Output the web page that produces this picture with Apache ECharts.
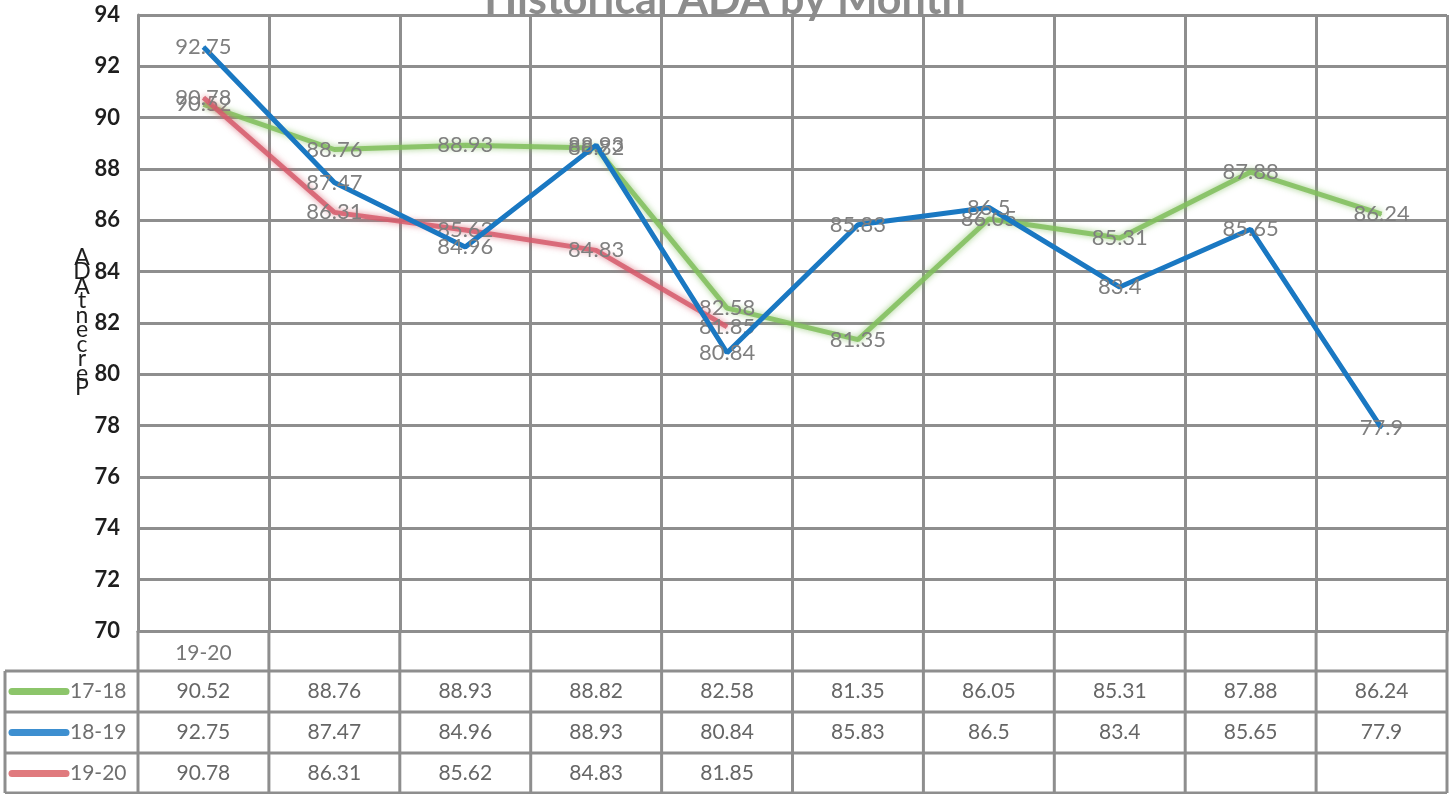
<!DOCTYPE html>
<html>
<head>
<meta charset="utf-8">
<title>Historical ADA by Month</title>
<script src="https://cdn.jsdelivr.net/npm/echarts@6/dist/echarts.min.js"></script>
<style>
  html, body { margin: 0; padding: 0; background: #ffffff; }
  #chart { width: 1450px; height: 794px; }
</style>
</head>
<body>
<div id="chart"></div>
<script>
// Category axis labels (one per month column)
const categories = ['19-20', '', '', '', '', '', '', '', '', ''];
// Y axis range
const yTicks = { min: 70, max: 94, step: 2 };
// Season names
const seasons = ['17-18', '18-19', '19-20'];
// ADA percentage per month for each season
const ada1718 = [90.52, 88.76, 88.93, 88.82, 82.58, 81.35, 86.05, 85.31, 87.88, 86.24];
const ada1819 = [92.75, 87.47, 84.96, 88.93, 80.84, 85.83, 86.5, 83.4, 85.65, 77.9];
const ada1920 = [90.78, 86.31, 85.62, 84.83, 81.85];

const seasonData = [ada1718, ada1819, ada1920];
const seasonColors = ['rgba(128,190,92,0.85)', '#1a78c2', 'rgba(214,92,108,0.85)'];
const keyColors = ['#8cc56a', '#3d8fd0', '#e07a7e'];

const FONT = 'Lato, "Liberation Sans", sans-serif';
const GRID_COLOR = '#8e8e8e';
const GRID_W = 3;

const chart = echarts.init(document.getElementById('chart'), null, { renderer: 'canvas' });

const gridBox = { left: 138, right: 3, top: 15, bottom: 163 };

function lineSeries(i) {
  const soft = i !== 1;
  return {
    name: seasons[i],
    type: 'line',
    data: seasonData[i],
    z: i === 1 ? 4 : (i === 2 ? 3 : 2),
    symbol: 'circle',
    symbolSize: 1,
    showSymbol: true,
    itemStyle: { color: seasonColors[i] },
    lineStyle: {
      color: seasonColors[i],
      width: 5,
      shadowBlur: soft ? 6 : 0,
      shadowColor: soft ? seasonColors[i] : 'transparent'
    },
    label: {
      show: true,
      position: 'inside',
      color: '#7f7f7f',
      fontFamily: FONT,
      fontSize: 22,
      formatter: p => String(p.value)
    },
    emphasis: { disabled: true },
    animation: false
  };
}

chart.setOption({
  animation: false,
  title: {
    text: 'Historical ADA by Month',
    left: 'center',
    top: -26,
    textStyle: { fontFamily: FONT, fontSize: 43, fontWeight: 'bold', color: '#8c8c8c' }
  },
  grid: gridBox,
  xAxis: {
    type: 'category',
    data: categories,
    boundaryGap: true,
    axisLine: { show: true, lineStyle: { color: GRID_COLOR, width: GRID_W } },
    axisTick: { show: false },
    splitLine: { show: true, lineStyle: { color: GRID_COLOR, width: GRID_W } },
    axisLabel: { margin: 12, color: '#777777', fontFamily: FONT, fontSize: 21 }
  },
  yAxis: {
    type: 'value',
    min: yTicks.min,
    max: yTicks.max,
    interval: yTicks.step,
    axisLine: { show: true, lineStyle: { color: GRID_COLOR, width: GRID_W } },
    axisTick: { show: false },
    splitLine: { show: true, lineStyle: { color: GRID_COLOR, width: GRID_W } },
    axisLabel: { margin: 18, color: '#1e1e1e', fontFamily: FONT, fontSize: 22, fontWeight: 'bold' }
  },
  series: [lineSeries(0), lineSeries(2), lineSeries(1)]
});

// Data table under the plot, built from the season arrays
function drawTable() {
  const n = categories.length;
  const c0 = chart.convertToPixel({ xAxisIndex: 0 }, 0);
  const c1 = chart.convertToPixel({ xAxisIndex: 0 }, 1);
  const band = c1 - c0;
  const xLeft = c0 - band / 2;
  const labelRowTop = chart.convertToPixel({ yAxisIndex: 0 }, yTicks.min);
  const rowTops = [671, 712, 753];
  const rowH = 41;
  const tableBottom = 793;
  const headerLeft = 5;
  const els = [];
  const line = (x1, y1, x2, y2) => els.push({
    type: 'line', silent: true, z: 10,
    shape: { x1, y1, x2, y2 },
    style: { stroke: GRID_COLOR, lineWidth: GRID_W }
  });

  // vertical column rules through the label row and the table
  for (let k = 0; k <= n; k++) {
    const x = xLeft + band * k;
    line(x, labelRowTop, x, tableBottom);
  }
  // horizontal rules
  rowTops.forEach(y => line(headerLeft, y, xLeft + band * n, y));
  line(headerLeft, tableBottom, xLeft + band * n, tableBottom);
  line(headerLeft, rowTops[0], headerLeft, tableBottom);

  seasons.forEach((s, r) => {
    const cy = rowTops[r] + rowH / 2;
    // legend key
    els.push({
      type: 'line', silent: true, z: 11,
      shape: { x1: 12, y1: cy, x2: 66, y2: cy },
      style: { stroke: keyColors[r], lineWidth: 7, lineCap: 'round' }
    });
    els.push({
      type: 'text', silent: true, z: 11,
      x: 70, y: cy,
      style: { text: s, fill: '#6f6f6f', font: '21px ' + FONT, textAlign: 'left', textVerticalAlign: 'middle' }
    });
    seasonData[r].forEach((v, i) => {
      els.push({
        type: 'text', silent: true, z: 11,
        x: chart.convertToPixel({ xAxisIndex: 0 }, i), y: cy,
        style: { text: String(v), fill: '#666666', font: '21px ' + FONT, textAlign: 'center', textVerticalAlign: 'middle' }
      });
    });
  });

  // y axis name, stacked letters
  els.push({
    type: 'text', silent: true, z: 11,
    x: 82, y: 250,
    style: {
      text: 'A\nD\nA\nt\nn\ne\nc\nr\ne\nP',
      fill: '#1e1e1e', font: '23px ' + FONT, lineHeight: 14.5,
      textAlign: 'center', textVerticalAlign: 'top'
    }
  });

  chart.setOption({ graphic: { elements: els } });
}
drawTable();
</script>
</body>
</html>
